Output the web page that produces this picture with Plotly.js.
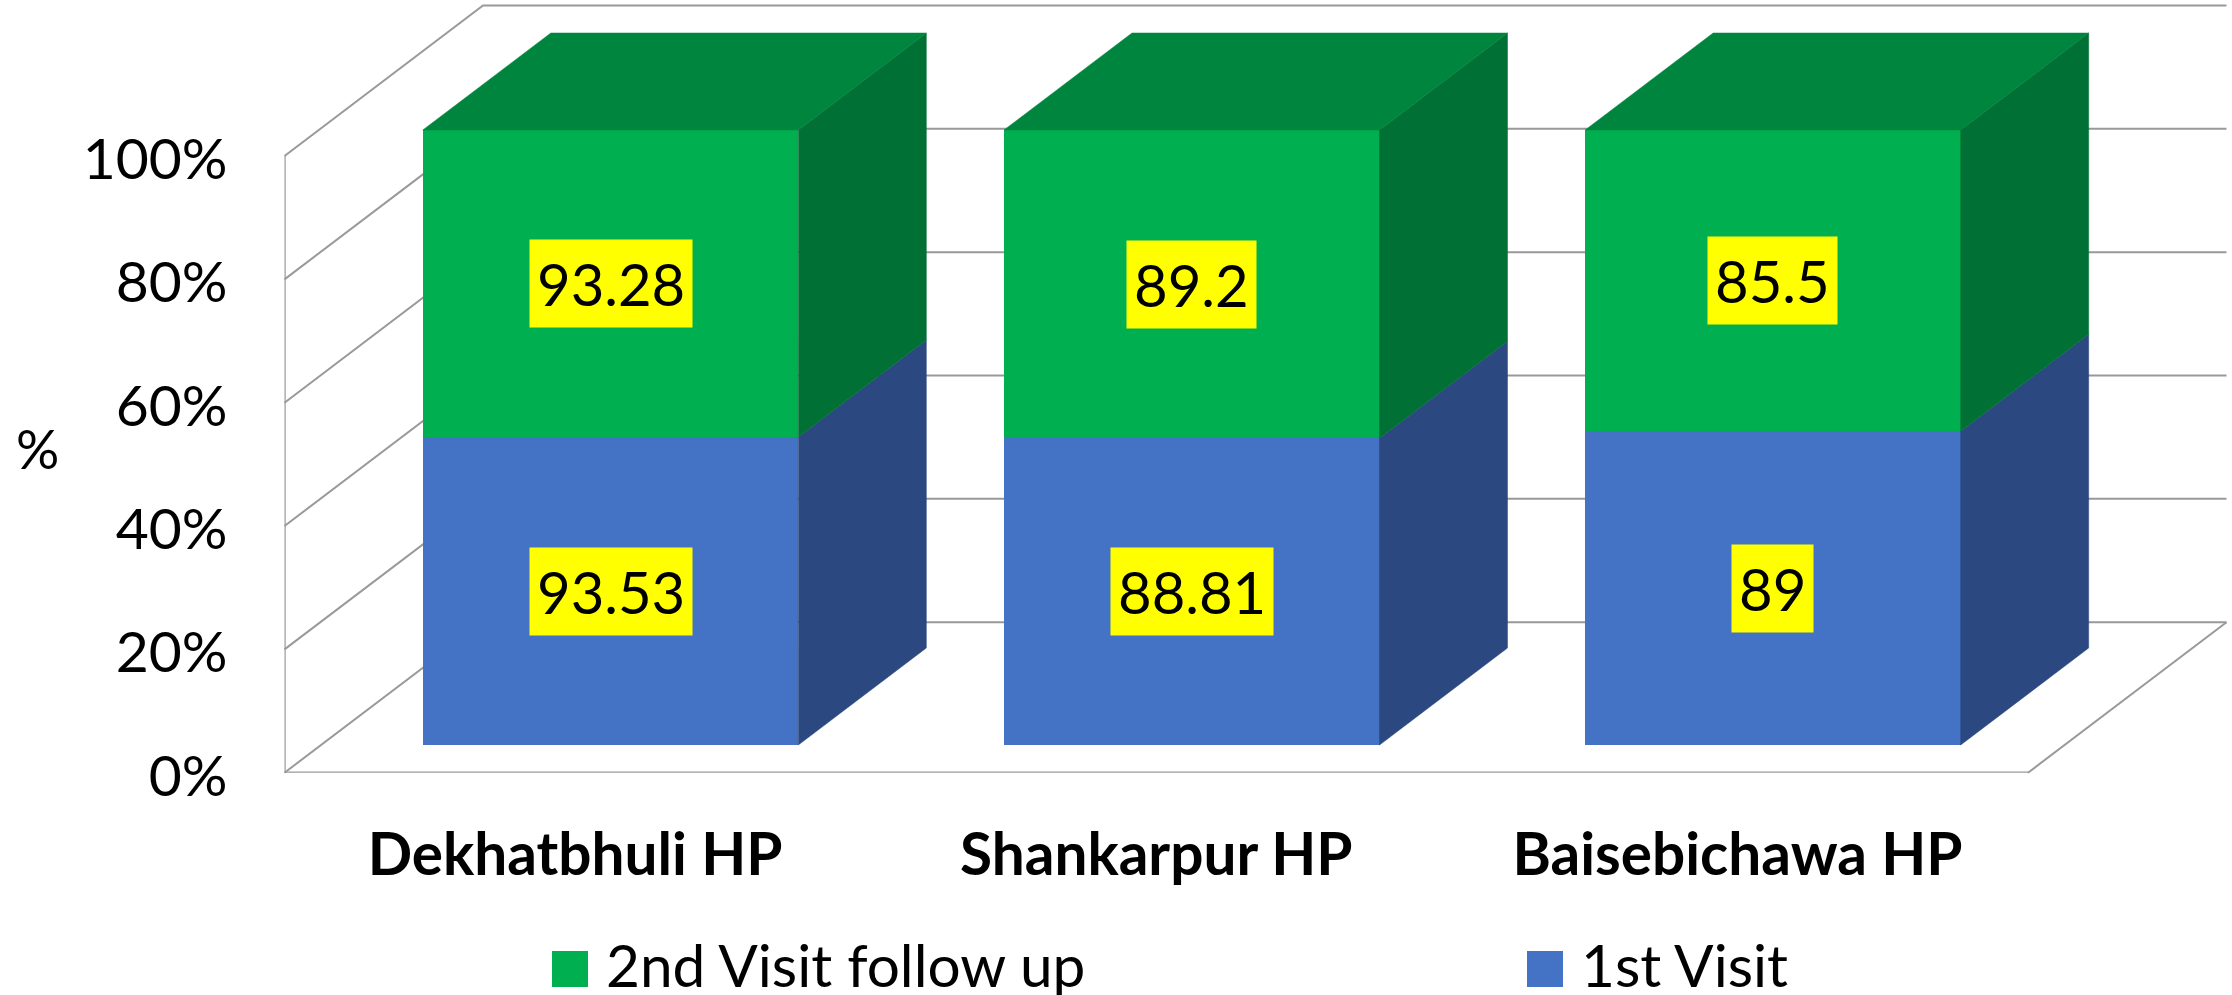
<!DOCTYPE html>
<html>
<head>
<meta charset="utf-8">
<script src="https://cdn.plot.ly/plotly-3.0.1.min.js"></script>
<style>html,body{margin:0;padding:0;background:#fff}#chart{width:2232px;height:995px}</style>
</head>
<body>
<div id="chart"></div>
<script>
const categories = ["Dekhatbhuli HP", "Shankarpur HP", "Baisebichawa HP"];
const firstVisit = [93.53, 88.81, 89];
const secondVisit = [93.28, 89.2, 85.5];
const tickValues = [0, 20, 40, 60, 80, 100];
const seriesNames = ["2nd Visit follow up", "1st Visit"];

const W = 2232, H = 995;
const FONT = "Lato, 'Noto Sans', sans-serif";
const GREEN = "#00B050", GREEN_SIDE = "#007035", GREEN_TOP = "#00853E";
const BLUE = "#4472C4", BLUE_SIDE = "#2B4880", GRID = "#999999";

// Wall plane (tick labels) and bar front plane, in page pixels
const wall = {l: 284.5, r: 2028, b: 772.7, t: 156};
const plane = {l: 320, r: 2063.5, b: 745, t: 130};
const xUnitPx = (plane.r - plane.l) / 3, yUnitPx = (plane.b - plane.t) / 100;
const wallYUnitPx = (wall.b - wall.t) / 100;

// Axis ranges that cover the whole page but keep the plane's scale
const fullX = a => [-0.5 - a.l / xUnitPx, 2.5 + (W - a.r) / xUnitPx];
const fullY = (a, u) => [-(H - a.b) / u, 100 + a.t / u];

// Oblique depth, in axis units
const wallDX = 198.5 / xUnitPx, wallDY = 150.5 / wallYUnitPx;
const barDX = 128 / xUnitPx, barDY = 97 / yUnitPx;
const barWidth = 375.5 / xUnitPx;
const idx = categories.map((_, i) => i);

const traces = [];

// Walls and floor, built from the axis ticks (lowest subplot)
const gx = [], gy = [];
tickValues.forEach(t => {
  gx.push(-0.5, -0.5 + wallDX, 2.5 + wallDX, null);
  gy.push(t, t + wallDY, t + wallDY, null);
});
gx.push(2.5, 2.5 + wallDX);
gy.push(0, wallDY);
traces.push({type: "scatter", mode: "lines", x: gx, y: gy, xaxis: "x", yaxis: "y",
  hoverinfo: "skip", showlegend: false, line: {color: GRID, width: 2}});

// Front wall edges: the axes that carry the tick labels
traces.push({type: "scatter", mode: "lines", x: [-0.5, -0.5, 2.5], y: [100, 0, 0],
  xaxis: "x2", yaxis: "y2", cliponaxis: false, hoverinfo: "skip", showlegend: false,
  line: {color: GRID, width: 2.4}});

// Front faces
traces.push({type: "bar", name: seriesNames[1], x: idx, y: firstVisit, width: barWidth,
  xaxis: "x3", yaxis: "y3", marker: {color: BLUE}, showlegend: false});
traces.push({type: "bar", name: seriesNames[0], x: idx, y: secondVisit, width: barWidth,
  xaxis: "x3", yaxis: "y3", marker: {color: GREEN}, showlegend: false});

// Depth faces
function face(xs, ys, color) {
  traces.push({type: "scatter", mode: "lines", x: xs, y: ys, xaxis: "x3", yaxis: "y3",
    fill: "toself", fillcolor: color, line: {color: color, width: 0.5},
    hoverinfo: "skip", showlegend: false});
}
idx.forEach(i => {
  const share = 100 * firstVisit[i] / (firstVisit[i] + secondVisit[i]);
  const L = i - barWidth / 2, R = i + barWidth / 2;
  face([R, R + barDX, R + barDX, R, R], [0, barDY, share + barDY, share, 0], BLUE_SIDE);
  face([R, R + barDX, R + barDX, R, R], [share, share + barDY, 100 + barDY, 100, share], GREEN_SIDE);
  face([L, R, R + barDX, L + barDX, L], [100, 100, 100 + barDY, 100 + barDY, 100], GREEN_TOP);
});

// Legend keys, large squares as in the reference
const legendY = py => (plane.b - py) / yUnitPx;
const legendX = px => (px - plane.l) / xUnitPx - 0.5;
[[seriesNames[0], GREEN, 570, 606], [seriesNames[1], BLUE, 1545, 1581]].forEach(([n, c, px, tx]) => {
  traces.push({type: "scatter", mode: "markers", x: [legendX(px)], y: [legendY(969)],
    xaxis: "x3", yaxis: "y3", hoverinfo: "skip", showlegend: false, name: n,
    marker: {symbol: "square", size: 36, color: c, line: {width: 0}}});
  traces.push({type: "scatter", mode: "text", x: [legendX(tx)], y: [legendY(972)],
    xaxis: "x3", yaxis: "y3", hoverinfo: "skip", showlegend: false, name: n,
    text: [n], textposition: "middle right",
    textfont: {family: FONT, size: 58.5, color: "#000"}});
});

// Data labels
const annotations = [];
idx.forEach(i => {
  const share = 100 * firstVisit[i] / (firstVisit[i] + secondVisit[i]);
  [[firstVisit[i], share / 2], [secondVisit[i], (share + 100) / 2]].forEach(([v, y]) => {
    annotations.push({xref: "x3", yref: "y3", x: i, y: y, text: String(v), showarrow: false,
      bgcolor: "#FFFF00", borderpad: 7, height: 73, valign: "middle",
      font: {family: FONT, size: 58, color: "#000"}});
  });
});
annotations.push({xref: "paper", yref: "paper", x: 37 / W, y: 1 - 448 / H, text: "%",
  xanchor: "center", yanchor: "middle",
  showarrow: false, font: {family: FONT, size: 54, color: "#000"}});

const layout = {
  width: W, height: H, margin: {l: 0, r: 0, t: 0, b: 0, pad: 0},
  paper_bgcolor: "#fff", plot_bgcolor: "rgba(0,0,0,0)", showlegend: false,
  barmode: "stack", barnorm: "percent",
  xaxis: {domain: [0, 1], range: fullX(wall), anchor: "y", visible: false, fixedrange: true},
  yaxis: {domain: [0, 1], range: fullY(wall, wallYUnitPx), anchor: "x", visible: false, fixedrange: true},
  xaxis2: {domain: [wall.l / W, wall.r / W], range: [-0.5, 2.5], anchor: "y2", tickmode: "array", tickvals: idx,
    ticktext: categories.map(c => "<b>" + c + "</b>"), showgrid: false, zeroline: false,
    showline: false, ticks: "", ticklabelstandoff: 43,
    tickfont: {family: FONT, size: 58.5, color: "#000"}, fixedrange: true},
  yaxis2: {domain: [1 - wall.b / H, 1 - wall.t / H], range: [0, 100], anchor: "x2", tickmode: "array", tickvals: tickValues,
    ticktext: tickValues.map(t => t + "%"), showgrid: false, zeroline: false,
    showline: false, ticks: "", ticklabelstandoff: 56, ticklabelshift: 3,
    tickfont: {family: FONT, size: 57, color: "#000"}, fixedrange: true},
  xaxis3: {domain: [0, 1], range: fullX(plane), anchor: "y3", visible: false, fixedrange: true},
  yaxis3: {domain: [0, 1], range: fullY(plane, yUnitPx), anchor: "x3", visible: false, fixedrange: true},
  annotations: annotations
};
Plotly.newPlot("chart", traces, layout, {displayModeBar: false, staticPlot: true});
</script>
</body>
</html>
